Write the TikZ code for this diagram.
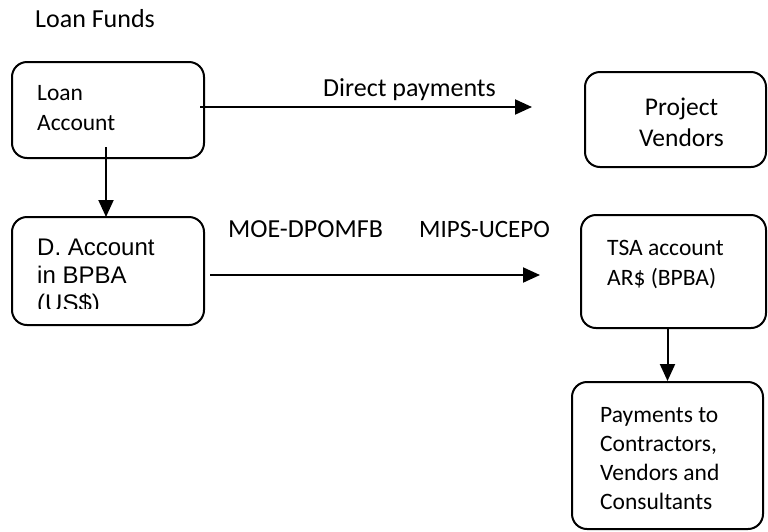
\documentclass[tikz,border=0pt]{standalone}
\usepackage{fontspec}
\setmainfont{Carlito}
\newfontfamily\arialf{Liberation Sans}
\usetikzlibrary{arrows.meta}
\newcommand\lstack[1]{\vtop{\halign{##\hfil\cr#1\crcr}}}
\newcommand\cstack[1]{\vtop{\halign{\hfil##\hfil\cr#1\crcr}}}
\begin{document}
\begin{tikzpicture}[x=1pt,y=-1pt,
  box/.style={draw,line width=2pt,rounded corners=15pt,inner sep=0pt},
  lbl/.style={inner sep=0pt,anchor=base west},
  conn/.style={line width=2pt,-{Triangle[length=17pt,width=15pt]}}]
\useasboundingbox (0,0) rectangle (768,531);

% boxes
\node[box,minimum width=192pt,minimum height=96pt] (loan) at (108,110) {};
\node[box,minimum width=181pt,minimum height=95pt] (vend) at (675.5,119.5) {};
\node[box,minimum width=192pt,minimum height=108pt] (dacc) at (108,271) {};
\node[box,minimum width=185pt,minimum height=113pt] (tsa) at (673.5,271.5) {};
\node[box,minimum width=191pt,minimum height=147pt] (pay) at (667.5,455.5) {};

% texts
\node[lbl,font=\fontsize{26}{30}\selectfont] (title) at (35,27) {Loan Funds};
\node[lbl,font=\fontsize{23.5}{30}\selectfont] (tloan) at (37,100) {\lstack{Loan\cr Account}};
\node[inner sep=0pt,anchor=base,font=\fontsize{25.5}{31}\selectfont] (tvend) at (681.5,115) {\cstack{Project\cr Vendors}};
\begin{scope}
  \clip (14,219) rectangle (202,308);
  \node[lbl,font=\arialf\fontsize{24}{28}\selectfont] (tdacc) at (37,255) {\lstack{D. Account\cr in BPBA\cr (US\$)}};
\end{scope}
\node[lbl,font=\fontsize{23.5}{30}\selectfont] (ttsa) at (607,255) {\lstack{TSA account\cr AR\$ (BPBA)}};
\node[lbl,font=\fontsize{23.5}{29}\selectfont] (tpay) at (600,422) {\lstack{Payments to\cr Contractors,\cr Vendors and\cr Consultants}};

\node[lbl,font=\fontsize{26}{30}\selectfont] (tdirect) at (323,96) {Direct payments};
\node[lbl,font=\fontsize{26}{30}\selectfont] (tmoe) at (228,237) {MOE-DPOMFB};
\node[lbl,font=\fontsize{25}{30}\selectfont] (tmips) at (419,237) {MIPS-UCEPO};

% connectors
\coordinate (c1s) at (200,107);
\coordinate (c1e) at (532,107);
\draw[conn] (c1s) -- (c1e);
\coordinate (c2s) at (106,147);
\coordinate (c2e) at (106,217);
\draw[conn] (c2s) -- (c2e);
\coordinate (c3s) at (210,275);
\coordinate (c3e) at (540,275);
\draw[conn] (c3s) -- (c3e);
\draw[conn] (pay.north |- tsa.south) -- (pay.north);
\end{tikzpicture}
\end{document}
